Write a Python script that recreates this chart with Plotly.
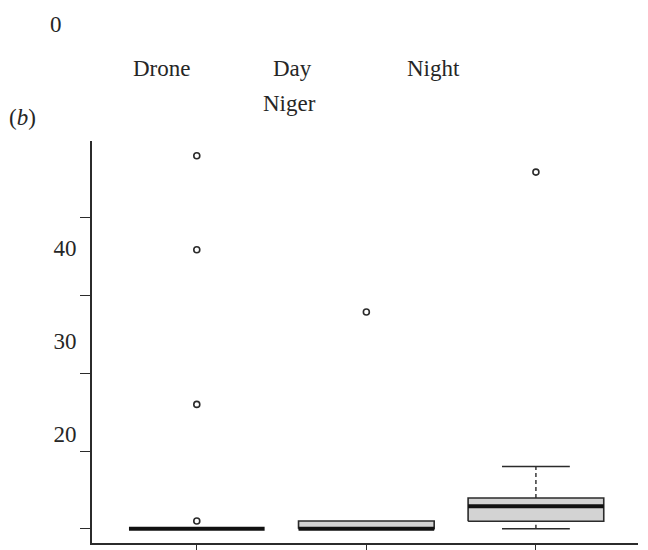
import plotly.graph_objects as go

# ---- data ----
categories = ["Drone", "Day", "Night"]
q1 = [0.0, 0.0, 0.95]
median = [0.0, 0.0, 2.9]
q3 = [0.0, 1.0, 3.95]
lower_whisker = [0.0, 0.0, 0.0]
upper_whisker = [0.0, 1.0, 8.0]
outlier_cat = [0, 0, 0, 0, 1, 2]
outlier_val = [1.0, 16.0, 35.9, 48.0, 27.9, 45.9]
ytick_marks = [0, 10, 20, 30, 40]
ylabel_vals = [36.15, 24.15, 12.25]
ylabel_text = ["40", "30", "20"]

FONT = "Liberation Serif"
FS = 23
TXT = "#262626"
LINE = "#2b2b2b"
HALF = 0.4
CAP = 0.2

W, H = 648, 550
ML, MR, MT, MB = 92, 10, 141, 7

fig = go.Figure()

for i in range(len(categories)):
    if q3[i] > q1[i]:
        fig.add_trace(go.Scatter(
            x=[i - HALF, i + HALF, i + HALF, i - HALF, i - HALF],
            y=[q1[i], q1[i], q3[i], q3[i], q1[i]],
            mode="lines", fill="toself", fillcolor="#d3d3d3",
            line=dict(color=LINE, width=1.6), hoverinfo="skip", showlegend=False))
    if upper_whisker[i] > q3[i]:
        fig.add_trace(go.Scatter(x=[i, i], y=[q3[i], upper_whisker[i]], mode="lines",
                                 line=dict(color=LINE, width=1.4, dash="4px,3px"),
                                 hoverinfo="skip", showlegend=False))
        fig.add_trace(go.Scatter(x=[i - CAP, i + CAP], y=[upper_whisker[i]] * 2, mode="lines",
                                 line=dict(color=LINE, width=1.6), hoverinfo="skip", showlegend=False))
    if lower_whisker[i] < q1[i]:
        fig.add_trace(go.Scatter(x=[i, i], y=[lower_whisker[i], q1[i]], mode="lines",
                                 line=dict(color=LINE, width=1.4, dash="4px,3px"),
                                 hoverinfo="skip", showlegend=False))
        fig.add_trace(go.Scatter(x=[i - CAP, i + CAP], y=[lower_whisker[i]] * 2, mode="lines",
                                 line=dict(color=LINE, width=1.6), hoverinfo="skip", showlegend=False))
    fig.add_trace(go.Scatter(x=[i - HALF, i + HALF], y=[median[i]] * 2, mode="lines",
                             line=dict(color="#111111", width=4), hoverinfo="skip", showlegend=False))

fig.add_trace(go.Scatter(x=outlier_cat, y=outlier_val, mode="markers",
                         marker=dict(symbol="circle-open", size=6, color=LINE, line=dict(width=1.6)),
                         showlegend=False))

yrange = [-1.84, 49.9]

fig.update_layout(
    width=W, height=H,
    margin=dict(l=ML, r=MR, t=MT, b=MB, autoexpand=False),
    paper_bgcolor="white", plot_bgcolor="white",
    font=dict(family=FONT, size=FS, color=TXT),
    xaxis=dict(range=[-0.618, 2.602], tickvals=[0, 1, 2], showticklabels=False, automargin=False,
               ticks="outside", ticklen=8, tickwidth=1.4, tickcolor=LINE,
               showline=True, linecolor=LINE, linewidth=1.6, showgrid=False, zeroline=False),
    yaxis=dict(range=yrange, tickvals=ytick_marks, showticklabels=False, automargin=False,
               ticks="outside", ticklen=10, tickwidth=1.4, tickcolor=LINE,
               showline=True, linecolor=LINE, linewidth=1.6, showgrid=False, zeroline=False),
    yaxis2=dict(range=yrange, overlaying="y", side="left", tickvals=ylabel_vals, ticktext=ylabel_text,
                automargin=False, ticks="outside", ticklen=10, tickcolor="rgba(0,0,0,0)", showline=False,
                showgrid=False, zeroline=False, tickfont=dict(family=FONT, size=FS, color=TXT)),
)

fig.add_trace(go.Scatter(x=[None], y=[None], yaxis="y2", showlegend=False, hoverinfo="skip"))

PW = W - ML - MR
PH = H - MT - MB

def px_x(p):
    return (p - ML) / PW

def px_y(p):
    return (H - MB - p) / PH

annos = [
    ("0", 55.5, 25),
    ("Drone", 161.7, 69),
    ("Day", 292.5, 69),
    ("Night", 433, 69),
    ("Niger", 289, 103),
    ("(<i>b</i>)", 22.5, 117),
]
for txt, xp, yp in annos:
    fig.add_annotation(text=txt, x=px_x(xp), y=px_y(yp), xref="paper", yref="paper",
                       xanchor="center", yanchor="middle", showarrow=False,
                       font=dict(family=FONT, size=FS, color=TXT))

fig.write_html("out.html")
